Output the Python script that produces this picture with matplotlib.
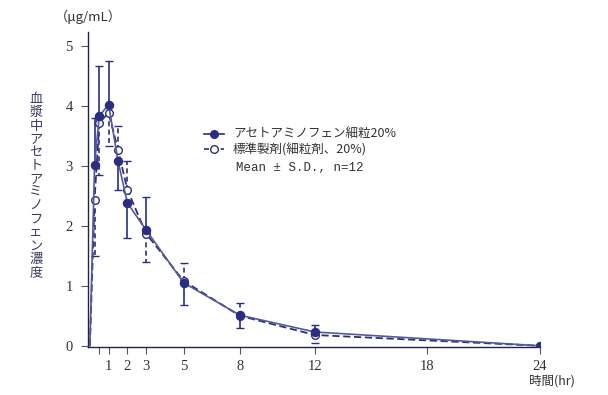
import matplotlib
matplotlib.use("Agg")
import matplotlib.pyplot as plt
from matplotlib.lines import Line2D
import numpy as np

# ---- data ----
times = [0, 0.25, 0.5, 1, 1.5, 2, 3, 5, 8, 12, 24]
test_mean = [0, 3.02, 3.83, 4.02, 3.08, 2.38, 1.93, 1.05, 0.51, 0.23, 0.0]
ref_mean = [0, 2.43, 3.72, 3.88, 3.27, 2.60, 1.87, 1.08, 0.50, 0.18, 0.0]
# SD, drawn on one side only (+1 up, -1 down, 0 none)
test_sd = [0, 0.78, 0.84, 0.73, 0.48, 0.58, 0.55, 0.37, 0.21, 0.12, 0]
test_dir = [0, 1, 1, 1, -1, -1, 1, -1, -1, 1, 0]
ref_sd = [0, 0.93, 0.87, 0.55, 0.40, 0.48, 0.47, 0.30, 0.22, 0.13, 0]
ref_dir = [0, -1, -1, -1, 1, 1, -1, 1, 1, -1, 0]

xticks = [0.5, 1, 2, 3, 5, 8, 12, 18, 24]
xticklabels = ["", "1", "2", "3", "5", "8", "12", "18", "24"]
yticks = [0, 1, 2, 3, 4, 5]

label_test = "アセトアミノフェン細粒20%"
label_ref = "標準製剤(細粒剤、20%)"
note = "Mean ± S.D., n=12"
ylabel = "血漿中アセトアミノフェン濃度"
unit = "（μg/mL）"
xlabel = "時間(hr)"

navy = "#2b2e80"
txt = "#333333"
cjk = ["Noto Sans CJK JP", "DejaVu Sans"]

fig = plt.figure(figsize=(6.08, 3.95), dpi=100)
ax = fig.add_axes([88 / 608, 48 / 395, 452 / 608, 315 / 395])

t = np.array(times)
marks = list(range(1, len(times)))

def draw_err(mean, sd, d, ls):
    mean = np.array(mean); sd = np.array(sd); d = np.array(d)
    m = d != 0
    ends = mean[m] + d[m] * sd[m]
    ax.vlines(t[m], mean[m], ends, colors=navy, linestyles=ls, lw=1.2, zorder=2)
    ax.scatter(t[m], ends, marker="_", s=40, color=navy, linewidths=1.0, zorder=2)

draw_err(test_mean, test_sd, test_dir, "solid")
draw_err(ref_mean, ref_sd, ref_dir, (0, (3, 2)))

ax.plot(t, ref_mean, ls=(0, (4, 2)), color=navy, lw=1.3, marker="o", ms=5.5,
        mfc="white", mec=navy, mew=1.0, markevery=marks, zorder=3)
ax.plot(t, test_mean, ls="-", color="#55589a", lw=1.2, marker="o", ms=5.8,
        mfc=navy, mec=navy, markevery=marks, zorder=4)

ax.set_xlim(-0.1, 24.0)
ax.set_ylim(-0.02, 5.23)
ax.set_xticks(xticks)
ax.set_xticklabels(xticklabels)
ax.set_yticks(yticks)
for s in ["top", "right"]:
    ax.spines[s].set_visible(False)
for s in ["left", "bottom"]:
    ax.spines[s].set_color("#222244")
    ax.spines[s].set_linewidth(1.0)
ax.tick_params(direction="out", length=5, width=0.8, color="#555555",
               labelcolor=txt, labelsize=10.5)
for lab in ax.get_xticklabels() + ax.get_yticklabels():
    lab.set_fontfamily("Liberation Serif")
ax.tick_params(axis="y", pad=6)
ax.tick_params(axis="x", pad=4)

handles = [
    Line2D([], [], color=navy, ls="-", lw=1.2, marker="o", ms=5.5, mfc=navy, mec=navy),
    Line2D([], [], color=navy, ls=(0, (3, 2)), lw=1.2, marker="o", ms=5.5, mfc="white", mec=navy),
]
leg = fig.legend(handles, [label_test, label_ref], loc="upper left",
                 bbox_to_anchor=(198 / 608, 1 - 122 / 395), frameon=False,
                 prop={"family": cjk, "size": 9}, handlelength=1.6,
                 handletextpad=0.7, labelspacing=0.15, borderpad=0)
for tx in leg.get_texts():
    tx.set_color(txt)
fig.text(236 / 608, 1 - 168 / 395, note, fontfamily="Liberation Mono",
         fontsize=9, color=txt, va="center", ha="left")

fig.text(36 / 608, 1 - 93 / 395, "\n".join(ylabel), fontfamily=cjk, fontsize=9.5,
         color="#3a3a66", va="top", ha="center", linespacing=1.03)
fig.text(88 / 608, 1 - 17 / 395, unit, fontfamily=cjk, fontsize=9.5, color=txt,
         va="center", ha="center")
fig.text(552 / 608, 1 - 381 / 395, xlabel, fontfamily=cjk, fontsize=9, color=txt,
         va="center", ha="center")

fig.savefig("out.png", dpi=100, facecolor="white")
